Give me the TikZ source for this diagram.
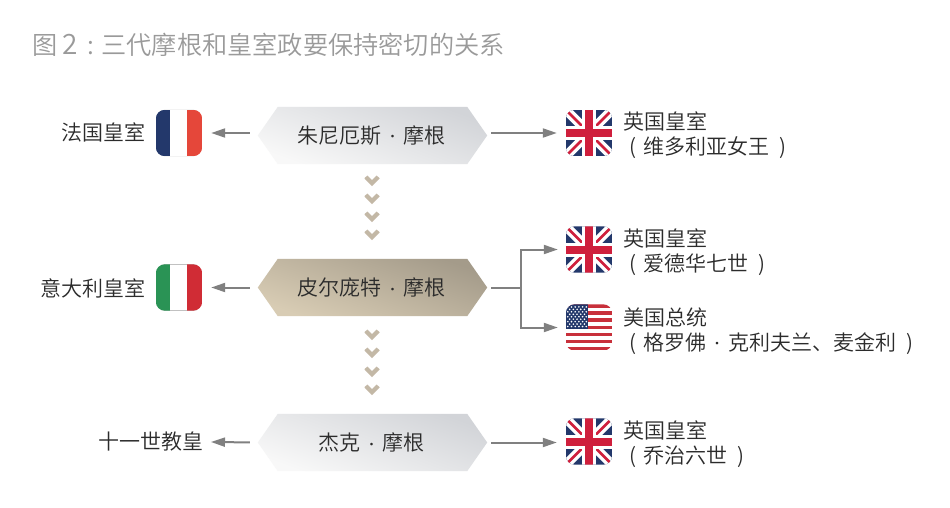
\documentclass[tikz,border=0pt]{standalone}
\usepackage{fontspec}
\setmainfont{Noto Sans CJK SC DemiLight}
\definecolor{txt}{HTML}{2B2B2B}
\definecolor{ttl}{HTML}{9A9A9A}
\definecolor{conn}{HTML}{808080}
\definecolor{chev}{HTML}{C3B8A6}
\definecolor{navy}{HTML}{23386B}
\definecolor{frred}{HTML}{E5473A}
\definecolor{itgreen}{HTML}{2A9355}
\definecolor{itred}{HTML}{D02C35}
\definecolor{ukred}{HTML}{CF1F3C}
\definecolor{usred}{HTML}{C8303B}
\definecolor{edge}{HTML}{A0A0A0}
\definecolor{hexlo}{HTML}{F8F8F8}
\definecolor{hexhi}{HTML}{D2D4D8}
\definecolor{tanlo}{HTML}{D8CCB4}
\definecolor{tanhi}{HTML}{A49B8A}
\usetikzlibrary{arrows.meta,calc}
\tikzset{
  x=1pt,y=-1pt,
  hexnode/.style={minimum width=229pt,minimum height=57pt,inner sep=0pt,font=\fontsize{21pt}{25pt}\selectfont,text=txt},
  flagnode/.style={minimum width=46pt,minimum height=46pt,inner sep=0pt},
  lbl/.style={inner sep=0pt,font=\fontsize{21pt}{25pt}\selectfont,text=txt,align=left},
  link/.style={draw=conn,line width=2pt,-{Triangle[length=14pt,width=9pt]}},
  plain/.style={draw=conn,line width=2pt},
  leftlink/.style={link,shorten <=8pt,shorten >=9pt},
  rightlink/.style={link,shorten <=4pt,shorten >=9pt},
}
\newcommand{\mdot}{\makebox[22pt][c]{\raisebox{1.5pt}{\fontsize{13pt}{13pt}\selectfont ·}}}
\newcommand{\lp}{\makebox[20pt][l]{\hspace{6pt}(}}
\newcommand{\rp}{\makebox[21pt][l]{\hspace{10pt})}}
\newcommand{\hexback}[3]{\shade[top color=#3,bottom color=#2,shading angle=-20]
  (#1.west) -- ($(#1.north west)+(20,0)$) -- ($(#1.north east)+(-20,0)$) -- (#1.east)
  -- ($(#1.south east)+(-20,0)$) -- ($(#1.south west)+(20,0)$) -- cycle;}
\newcommand{\chevron}[2]{\fill[chev] (#1-7.5,#2-3) -- (#1-4.5,#2-5.5) -- (#1,#2-1) -- (#1+4.5,#2-5.5) -- (#1+7.5,#2-3) -- (#1+7.5,#2-2.5) -- (#1,#2+5) -- (#1-7.5,#2-2.5) -- cycle;}
\newcommand{\flagclip}[1]{\clip[rounded corners=9pt] ($(#1.north west)$) rectangle ($(#1.south east)$);}
\newcommand{\triflag}[3]{\begin{scope}\flagclip{#1}
  \fill[white] (#1.north west) rectangle (#1.south east);
  \draw[edge,line width=1pt] (#1.north west) -- (#1.north east) (#1.south west) -- (#1.south east);
  \fill[#2] (#1.north west) rectangle ($(#1.south west)+(14.5,0)$);
  \fill[#3] ($(#1.north east)+(-15,0)$) rectangle (#1.south east);
\end{scope}}
\newcommand{\ukflag}[1]{\begin{scope}\flagclip{#1}
  \fill[navy] (#1.north west) rectangle (#1.south east);
  \draw[white,line width=9.5pt] (#1.north west) -- (#1.south east) (#1.north east) -- (#1.south west);
  \draw[ukred,line width=2.6pt] (#1.north west) -- (#1.south east) (#1.north east) -- (#1.south west);
  \draw[white,line width=14pt] (#1.north) -- (#1.south) (#1.west) -- (#1.east);
  \draw[ukred,line width=8pt] (#1.north) -- (#1.south) (#1.west) -- (#1.east);
\end{scope}}
\newcommand{\usflag}[1]{\begin{scope}\flagclip{#1}
  \fill[white] (#1.north west) rectangle (#1.south east);
  \foreach \i in {0,2,...,12}{\fill[usred] ($(#1.north west)+(0,\i*3.54)$) rectangle ($(#1.north east)+(0,\i*3.54+3.54)$);}
  \fill[navy] (#1.north west) rectangle ($(#1.north west)+(22,24.8)$);
  \foreach \r in {0,...,4}{\foreach \c in {0,...,5}{\fill[white] ($(#1.north west)+(2+\c*3.7,2.6+\r*4.9)$) circle (0.9);}}
  \foreach \r in {0,...,3}{\foreach \c in {0,...,4}{\fill[white] ($(#1.north west)+(3.85+\c*3.7,5.05+\r*4.9)$) circle (0.9);}}
\end{scope}}
\begin{document}
\begin{tikzpicture}
\useasboundingbox (0,0) rectangle (950,507);
\fill[white] (0,0) rectangle (950,507);
\node[inner sep=0pt,anchor=west,text=ttl,font=\fontsize{25.2pt}{30pt}\selectfont] (title) at (32,45) {图\hspace{5pt}\fontsize{28pt}{30pt}\selectfont 2\hspace{10pt}\fontsize{25.2pt}{30pt}\selectfont :\hspace{7pt}三代摩根和皇室政要保持密切的关系};
\node[hexnode] (a) at (372.5,135.5) {};
\node[hexnode] (b) at (372.5,287.5) {};
\node[hexnode] (c) at (372.5,442.5) {};
\hexback{a}{hexlo}{hexhi}
\hexback{b}{tanlo}{tanhi}
\hexback{c}{hexlo}{hexhi}
\node[hexnode,xshift=-1pt] at (a) {朱尼厄斯\mdot 摩根};
\node[hexnode,xshift=-1pt] at (b) {皮尔庞特\mdot 摩根};
\node[hexnode,xshift=-1pt] at (c) {杰克\mdot 摩根};
\node[flagnode] (fr) at (179,133) {};
\node[flagnode] (it) at (179,287.5) {};
\node[flagnode] (uk1) at (589,133) {};
\node[flagnode] (uk2) at (589,249.5) {};
\node[flagnode] (us) at (589,327.5) {};
\node[flagnode] (uk3) at (589,441.5) {};
\triflag{fr}{navy}{frred}
\triflag{it}{itgreen}{itred}
\ukflag{uk1}\ukflag{uk2}\ukflag{uk3}
\usflag{us}
\node[lbl,anchor=east] (l1) at (146,132) {法国皇室};
\node[lbl,anchor=east] (l2) at (146,288) {意大利皇室};
\node[lbl,anchor=east] (l3) at (204,442) {十一世教皇};
\node[lbl,anchor=west] (r1) at (623,135) {英国皇室\\\lp 维多利亚女王\rp};
\node[lbl,anchor=west] (r2) at (623,252) {英国皇室\\\lp 爱德华七世\rp};
\node[lbl,anchor=west] (r3) at (623,331) {美国总统\\\lp 格罗佛\mdot 克利夫兰、麦金利\rp};
\node[lbl,anchor=west] (r4) at (623,444) {英国皇室\\\lp 乔治六世\rp};
\foreach \yy in {181,199,217,235,335,353,372,390}{\chevron{372}{\yy}}
\draw[leftlink] (a.west |- fr.east) -- (fr.east);
\draw[rightlink] (a.east |- uk1.west) -- (uk1.west);
\draw[leftlink] (b.west) -- (it.east);
\coordinate (j) at (521,287.5);
\draw[plain,shorten <=4pt] (b.east) -- (j);
\draw[link,shorten >=8pt] (j) |- (uk2.west);
\draw[link,shorten >=8pt] (j) |- (us.west);
\draw[leftlink,shorten >=-1pt] (c.west) -- (l3.east -| 212,0);
\draw[rightlink] (c.east) -- (uk3.west |- c.east);
\end{tikzpicture}
\end{document}
